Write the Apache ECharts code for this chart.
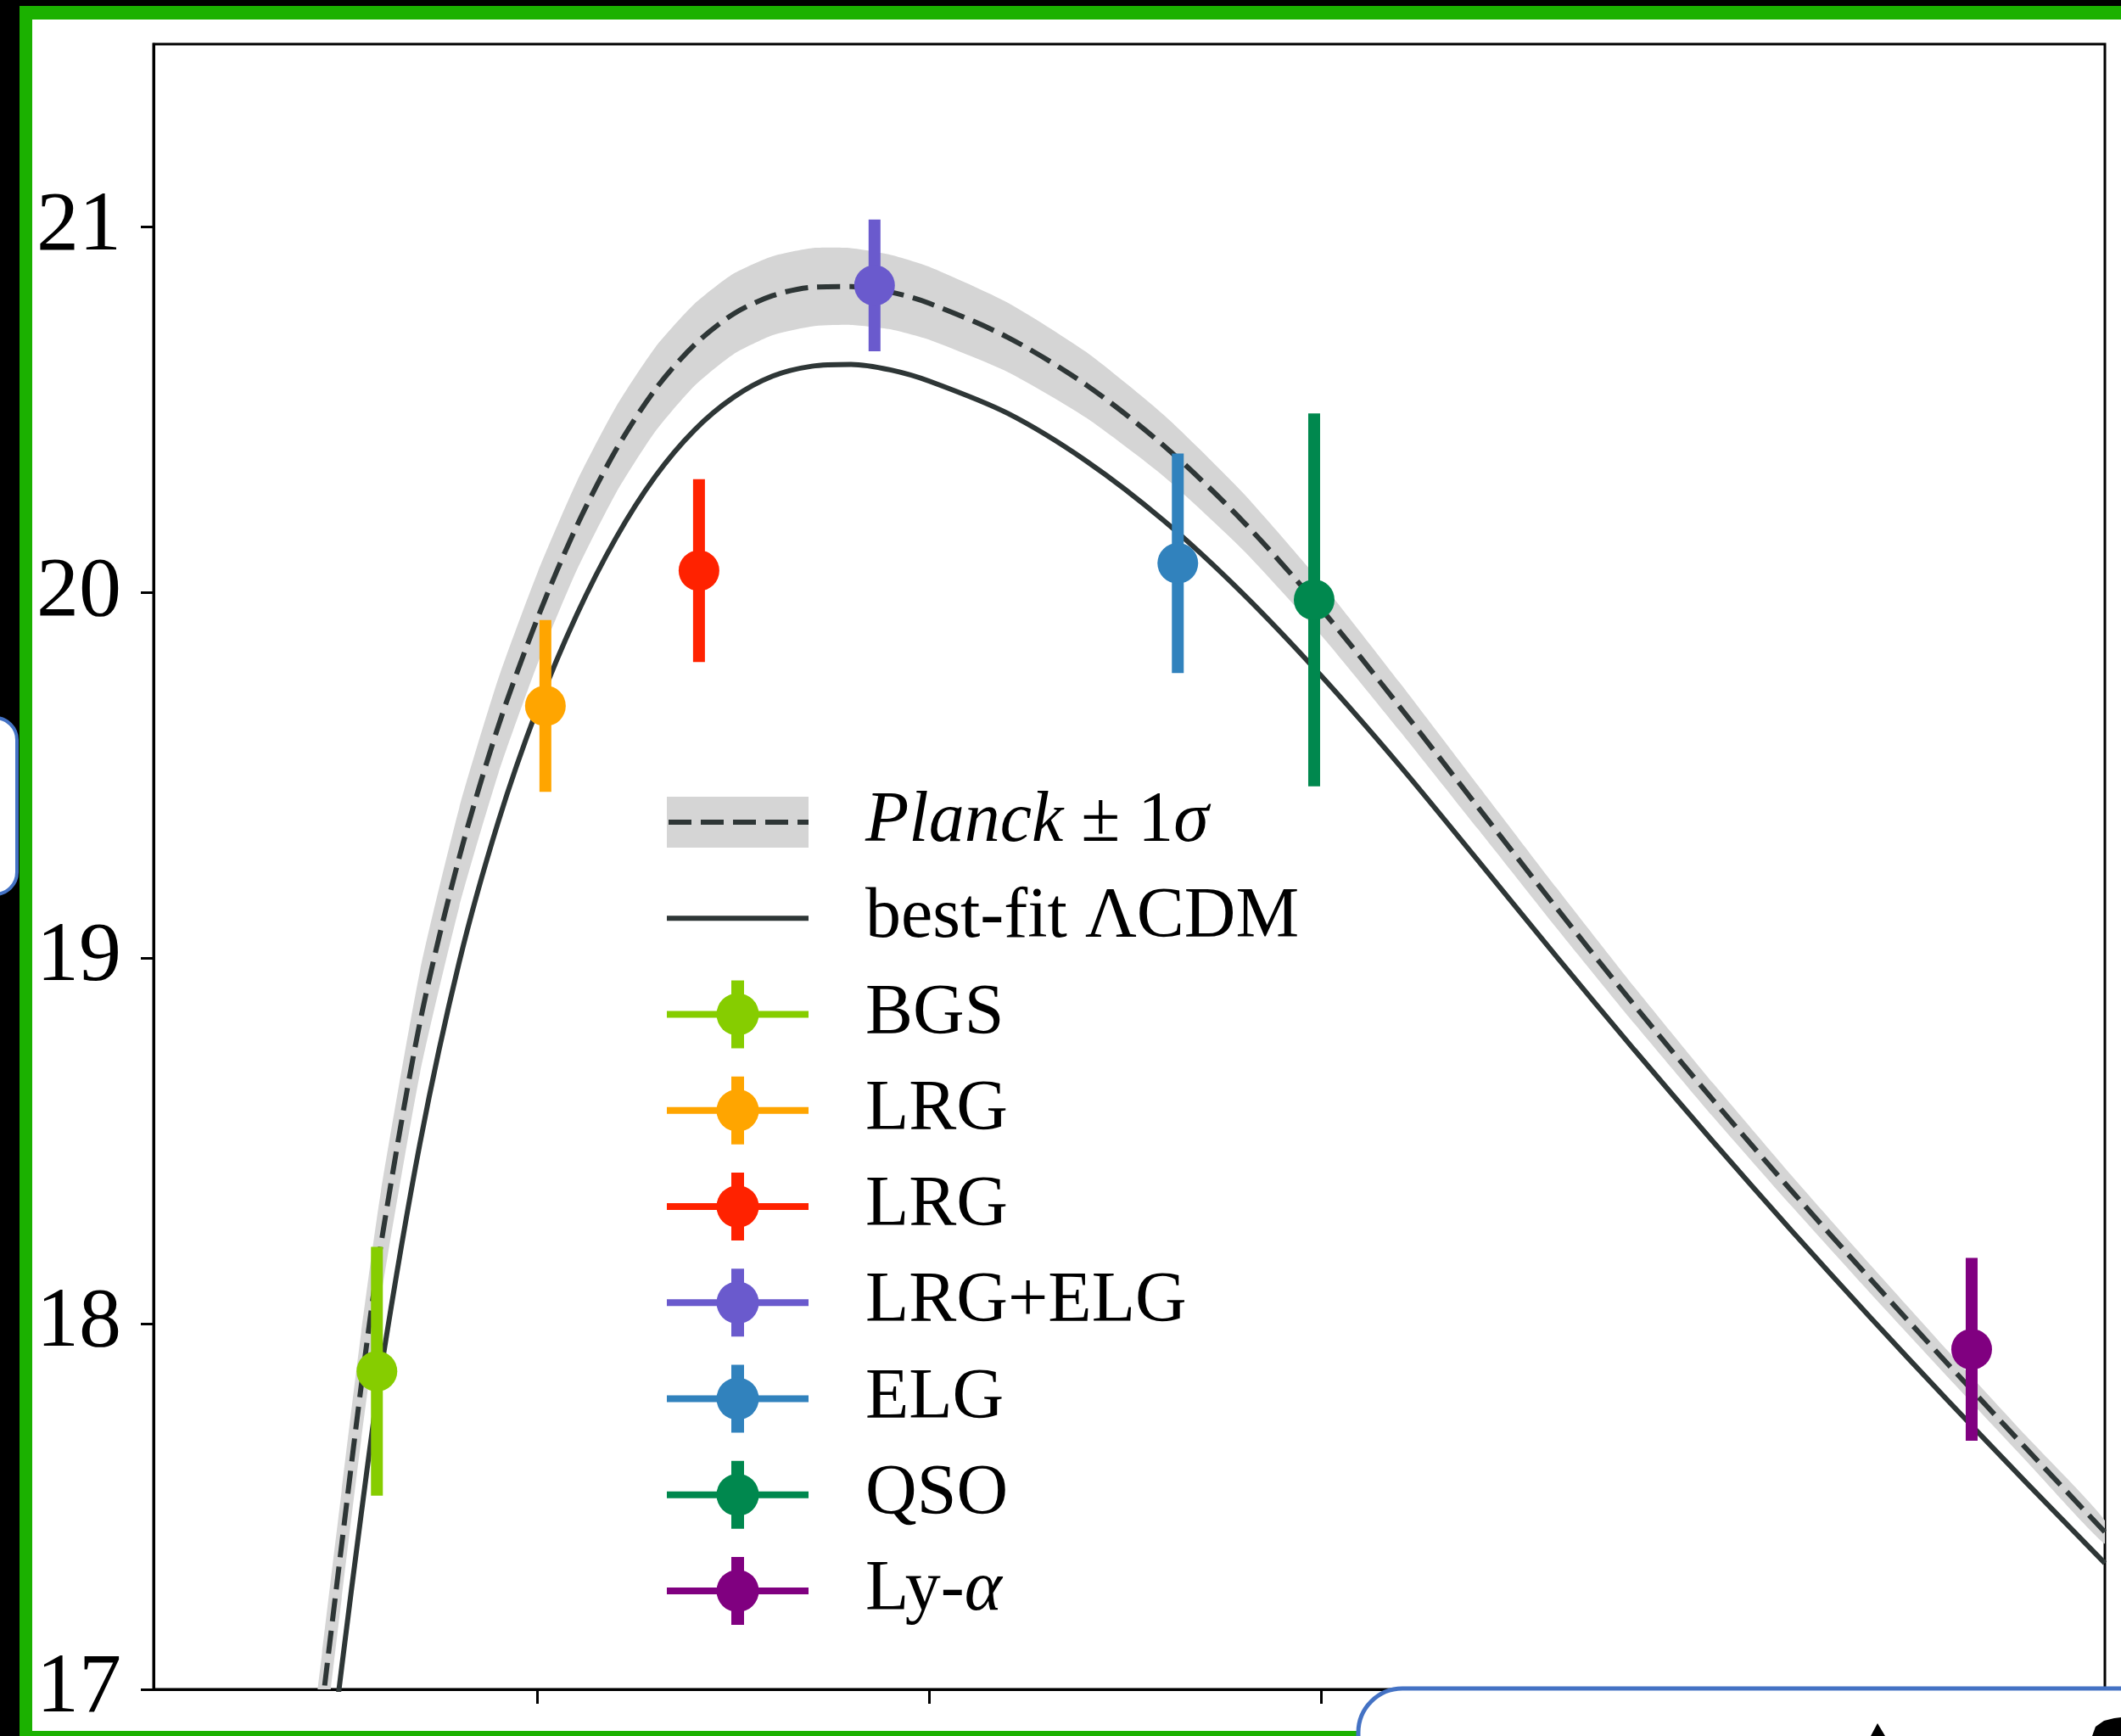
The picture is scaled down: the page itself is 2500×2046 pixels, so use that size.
<!DOCTYPE html>
<html>
<head>
<meta charset="utf-8">
<script src="https://cdn.jsdelivr.net/npm/echarts@6/dist/echarts.min.js"></script>
<style>
  html, body { margin: 0; padding: 0; background: #fff; }
  #chart { width: 2500px; height: 2046px; }
</style>
</head>
<body>
<div id="chart"></div>
<script>
// Redshift grid for the model curves
const zGrid = [0.20, 0.225, 0.25, 0.275, 0.30, 0.35, 0.40, 0.45, 0.50, 0.55, 0.60, 0.65, 0.70, 0.75,
  0.80, 0.85, 0.90, 0.95, 1.00, 1.10, 1.20, 1.30, 1.40, 1.50, 1.60, 1.70, 1.80, 1.90, 2.00, 2.10,
  2.20, 2.30, 2.40, 2.50];

// Planck prediction and its 1-sigma envelope
const planck = [16.485, 16.95, 17.395, 17.83, 18.215, 18.825, 19.275, 19.635, 19.93, 20.182, 20.39,
  20.555, 20.677, 20.762, 20.812, 20.835, 20.837, 20.822, 20.791, 20.698, 20.568, 20.40, 20.195,
  19.955, 19.688, 19.413, 19.138, 18.87, 18.612, 18.364, 18.124, 17.889, 17.658, 17.43];
const planckHi = [16.635, 17.099, 17.543, 17.977, 18.36, 18.965, 19.41, 19.765, 20.055, 20.303, 20.508,
  20.67, 20.789, 20.872, 20.92, 20.942, 20.942, 20.924, 20.891, 20.793, 20.658, 20.484, 20.273,
  20.027, 19.754, 19.473, 19.193, 18.92, 18.658, 18.406, 18.163, 17.925, 17.692, 17.462];
const planckLo = [16.335, 16.801, 17.247, 17.683, 18.07, 18.685, 19.14, 19.505, 19.805, 20.061, 20.272,
  20.44, 20.565, 20.652, 20.704, 20.728, 20.732, 20.72, 20.691, 20.603, 20.478, 20.316, 20.117,
  19.883, 19.622, 19.353, 19.083, 18.82, 18.566, 18.322, 18.085, 17.853, 17.624, 17.398];

// Best-fit LambdaCDM curve
const bestFit = [16.159, 16.619, 17.059, 17.48, 17.87, 18.494, 18.989, 19.374, 19.684, 19.939, 20.149,
  20.317, 20.444, 20.534, 20.592, 20.619, 20.624, 20.609, 20.578, 20.49, 20.36, 20.195, 19.997,
  19.772, 19.527, 19.267, 19.005, 18.748, 18.498, 18.255, 18.019, 17.789, 17.565, 17.345];

// BAO measurements per tracer
const tracers = ['BGS', 'LRG', 'LRG', 'LRG+ELG', 'ELG', 'QSO', 'Ly-α'];
const zEff = [0.295, 0.51, 0.706, 0.93, 1.317, 1.491, 2.33];
const dvValue = [17.87, 19.69, 20.06, 20.84, 20.08, 19.98, 17.93];
const dvError = [0.34, 0.235, 0.25, 0.18, 0.30, 0.51, 0.25];

// Axis ticks
const yTicks = [17, 18, 19, 20, 21];
const xTicks = [0.5, 1.0, 1.5, 2.0];

// Styling
const tracerColors = ['#86cd00', '#ffa500', '#ff2200', '#6a5acd', '#3182bd', '#00884e', '#800080'];
const curveColor = '#2e3636';
const bandColor = '#d5d5d5';
const FONT = '"Liberation Serif", "DejaVu Serif", serif';

const chart = echarts.init(document.getElementById('chart'), null, { renderer: 'canvas' });

const bandData = zGrid.map((z, i) => [z, planckLo[i], planckHi[i]]);

const series = [
  {
    type: 'custom',
    name: 'Planck band',
    coordinateSystem: 'cartesian2d',
    silent: true,
    z: 1,
    data: bandData,
    encode: { x: 0, y: [1, 2] },
    renderItem: function (params, api) {
      if (params.dataIndex !== 0) return null;
      const upper = zGrid.map((z, i) => api.coord([z, planckHi[i]]));
      const lower = zGrid.map((z, i) => api.coord([z, planckLo[i]])).reverse();
      const cs = params.coordSys;
      return {
        type: 'polygon',
        shape: { points: upper.concat(lower), smooth: 0.2 },
        style: { fill: bandColor, stroke: null },
        clipPath: { type: 'rect', shape: { x: cs.x, y: cs.y, width: cs.width, height: cs.height } }
      };
    }
  },
  {
    type: 'line',
    name: 'Planck',
    data: zGrid.map((z, i) => [z, planck[i]]),
    showSymbol: false,
    smooth: 0.3,
    clip: true,
    silent: true,
    z: 2,
    lineStyle: { color: curveColor, width: 6, type: [27, 11] }
  },
  {
    type: 'line',
    name: 'best-fit ΛCDM',
    data: zGrid.map((z, i) => [z, bestFit[i]]),
    showSymbol: false,
    smooth: 0.3,
    clip: true,
    silent: true,
    z: 2,
    lineStyle: { color: curveColor, width: 6, type: 'solid' }
  },
  {
    type: 'custom',
    name: 'errors',
    coordinateSystem: 'cartesian2d',
    silent: true,
    z: 3,
    data: zEff.map((z, i) => [z, dvValue[i] - dvError[i], dvValue[i] + dvError[i], i]),
    encode: { x: 0, y: [1, 2] },
    renderItem: function (params, api) {
      const lo = api.coord([api.value(0), api.value(1)]);
      const hi = api.coord([api.value(0), api.value(2)]);
      return {
        type: 'line',
        shape: { x1: lo[0], y1: lo[1], x2: hi[0], y2: hi[1] },
        style: { stroke: tracerColors[api.value(3)], lineWidth: 14, lineCap: 'butt' }
      };
    }
  },
  {
    type: 'scatter',
    name: 'measurements',
    silent: true,
    z: 4,
    symbol: 'circle',
    symbolSize: 48,
    data: zEff.map((z, i) => ({ value: [z, dvValue[i]], itemStyle: { color: tracerColors[i], opacity: 1 } }))
  }
];

// Legend built from the series labels and colours
const legendLeft = 786, legendRight = 953, legendTop = 969, rowGap = 113.25, textX = 1020;
const legendMid = (legendLeft + legendRight) / 2;
const legendChildren = [];
const textStyleBase = { fontSize: 84, fontFamily: FONT, fill: '#000', verticalAlign: 'middle', align: 'left' };
const richItalic = { it: { fontSize: 84, fontFamily: FONT, fontStyle: 'italic' }, n: { fontSize: 84, fontFamily: FONT } };

// Row 0: Planck band + dashed curve
legendChildren.push({
  type: 'rect', shape: { x: legendLeft, y: legendTop - 30, width: legendRight - legendLeft, height: 60 },
  style: { fill: bandColor }
});
legendChildren.push({
  type: 'line', shape: { x1: legendLeft + 2, y1: legendTop, x2: legendRight, y2: legendTop },
  style: { stroke: curveColor, lineWidth: 6, lineDash: [27, 11] }
});
legendChildren.push({
  type: 'text', x: textX, y: legendTop,
  style: Object.assign({}, textStyleBase, { text: '{it|Planck}{n| ± 1}{it|σ}', rich: richItalic })
});

// Row 1: best-fit curve
const row1 = legendTop + rowGap;
legendChildren.push({
  type: 'line', shape: { x1: legendLeft, y1: row1, x2: legendRight, y2: row1 },
  style: { stroke: curveColor, lineWidth: 6 }
});
legendChildren.push({
  type: 'text', x: textX, y: row1,
  style: Object.assign({}, textStyleBase, { text: 'best-fit ΛCDM' })
});

// Tracer rows
tracers.forEach((name, i) => {
  const y = legendTop + rowGap * (i + 2);
  const c = tracerColors[i];
  legendChildren.push({
    type: 'line', shape: { x1: legendLeft, y1: y, x2: legendRight, y2: y },
    style: { stroke: c, lineWidth: 8 }
  });
  legendChildren.push({
    type: 'rect', shape: { x: legendMid - 7.5, y: y - 40, width: 15, height: 80 },
    style: { fill: c }
  });
  legendChildren.push({
    type: 'circle', shape: { cx: legendMid, cy: y, r: 25 },
    style: { fill: c }
  });
  const label = name === 'Ly-α' ? '{n|Ly-}{it|α}' : name;
  legendChildren.push({
    type: 'text', x: textX, y: y,
    style: Object.assign({}, textStyleBase, { text: label, rich: richItalic })
  });
});

// Surrounding frame
const frameGreen = '#1bb100';
const boxBlue = '#4472c4';
const frame = [
  { type: 'rect', z: 100, shape: { x: 0, y: 0, width: 2500, height: 7 }, style: { fill: '#000' } },
  { type: 'rect', z: 100, shape: { x: 0, y: 0, width: 23, height: 2046 }, style: { fill: '#000' } },
  { type: 'rect', z: 101, shape: { x: 23, y: 7, width: 2477, height: 16 }, style: { fill: frameGreen } },
  { type: 'rect', z: 101, shape: { x: 23, y: 7, width: 15, height: 2039 }, style: { fill: frameGreen } },
  { type: 'rect', z: 101, shape: { x: 23, y: 2040, width: 1580, height: 6 }, style: { fill: frameGreen } },
  { type: 'rect', z: 102, shape: { x: -60, y: 846, width: 80, height: 208, r: 26 },
    style: { fill: '#fff', stroke: boxBlue, lineWidth: 4 } },
  { type: 'rect', z: 102, shape: { x: 1601, y: 1990, width: 1000, height: 200, r: 52 },
    style: { fill: '#fff', stroke: boxBlue, lineWidth: 5 } },
  { type: 'polygon', z: 103, shape: { points: [[2205, 2046], [2213, 2031], [2222, 2046]] }, style: { fill: '#000' } },
  { type: 'polygon', z: 103, shape: { points: [[2466, 2046], [2470, 2035], [2480, 2028], [2492, 2025], [2500, 2024], [2500, 2046]] }, style: { fill: '#000' } }
];

const option = {
  backgroundColor: '#fff',
  animation: false,
  grid: {
    left: 181, top: 52, width: 2300, height: 1939,
    show: true, borderColor: '#000', borderWidth: 3, backgroundColor: 'transparent'
  },
  xAxis: {
    type: 'value',
    min: 0.01,
    max: 2.5,
    axisLine: { show: true, onZero: false, lineStyle: { color: '#000', width: 3 } },
    axisTick: { show: true, inside: false, length: 17, customValues: xTicks, lineStyle: { color: '#000', width: 3 } },
    axisLabel: { show: false },
    splitLine: { show: false }
  },
  yAxis: {
    type: 'value',
    min: 17,
    max: 21.5,
    interval: 1,
    axisLine: { show: true, onZero: false, lineStyle: { color: '#000', width: 3 } },
    axisTick: { show: true, inside: false, length: 15, customValues: yTicks, lineStyle: { color: '#000', width: 3 } },
    axisLabel: {
      show: true, customValues: yTicks, margin: 38,
      fontSize: 100, fontFamily: FONT, color: '#000'
    },
    splitLine: { show: false }
  },
  series: series,
  graphic: [
    { type: 'group', z: 50, children: legendChildren },
    { type: 'group', z: 100, children: frame }
  ]
};

chart.setOption(option);
</script>
</body>
</html>
